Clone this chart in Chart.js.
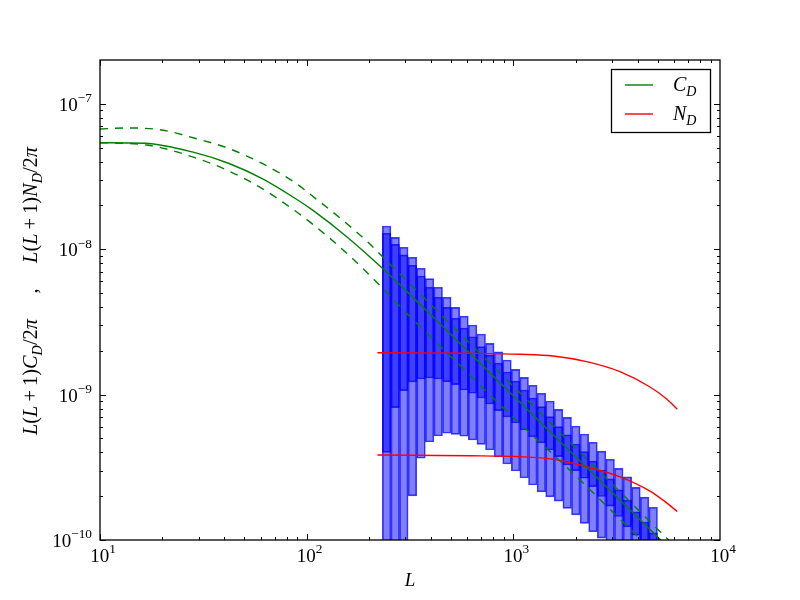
<!DOCTYPE html>
<html>
<head>
<meta charset="utf-8">
<script src="https://cdn.jsdelivr.net/npm/chart.js@4.4.0/dist/chart.umd.min.js"></script>
<style>
  html, body { margin: 0; background: #fff; }
</style>
</head>
<body>
<canvas id="c" width="800" height="600"></canvas>
<script>
// bin centres in L for the binned estimates
const binL = [243.7, 268.2, 295.1, 324.8, 357.5, 393.4, 433.0, 476.6, 524.5, 577.3,
  635.3, 699.2, 769.5, 846.9, 932.0, 1025.6, 1128.8, 1242.3, 1367.3, 1504.8,
  1655.9, 1822.5, 2005.7, 2207.3, 2429.1, 2673.0, 2941.8, 3237.4, 3564.5, 3922.4,
  4316.6, 4750.3];
// light boxes (outer range)
const outerHi = [1.444e-8, 1.207e-8, 1.031e-8, 8.80e-9, 7.39e-9, 6.27e-9, 5.47e-9, 4.67e-9, 3.98e-9, 3.46e-9,
  3.01e-9, 2.61e-9, 2.25e-9, 1.97e-9, 1.73e-9, 1.49e-9, 1.315e-9, 1.159e-9, 1.021e-9, 9.04e-10,
  7.92e-10, 6.98e-10, 6.08e-10, 5.36e-10, 4.70e-10, 4.09e-10, 3.59e-10, 3.11e-10, 2.72e-10, 2.30e-10,
  1.97e-10, 1.68e-10];
const outerLo = [5e-11, 5e-11, 5e-11, 2.01e-10, 3.65e-10, 4.72e-10, 5.19e-10, 5.42e-10, 5.33e-10, 5.17e-10,
  4.87e-10, 4.55e-10, 4.16e-10, 3.72e-10, 3.33e-10, 2.98e-10, 2.67e-10, 2.39e-10, 2.14e-10, 1.98e-10,
  1.85e-10, 1.65e-10, 1.49e-10, 1.30e-10, 1.14e-10, 1.03e-10, 8e-11, 7e-11, 6e-11, 5e-11,
  5e-11, 4e-11];
// dark boxes (inner range)
const innerHi = [1.287e-8, 1.080e-8, 9.13e-9, 7.75e-9, 6.54e-9, 5.47e-9, 4.67e-9, 3.98e-9, 3.35e-9, 2.87e-9,
  2.50e-9, 2.14e-9, 1.87e-9, 1.65e-9, 1.43e-9, 1.24e-9, 1.076e-9, 9.48e-10, 8.26e-10, 7.05e-10,
  6.02e-10, 5.28e-10, 4.57e-10, 4.05e-10, 3.49e-10, 3.03e-10, 2.63e-10, 2.21e-10, 1.88e-10, 1.56e-10,
  1.33e-10, 1.12e-10];
const innerLo = [4.01e-10, 8.13e-10, 1.064e-9, 1.221e-9, 1.28e-9, 1.30e-9, 1.28e-9, 1.227e-9, 1.170e-9, 1.076e-9,
  1.021e-9, 9.48e-10, 8.62e-10, 7.75e-10, 7.01e-10, 6.38e-10, 5.71e-10, 5.13e-10, 4.65e-10, 4.16e-10,
  3.74e-10, 3.28e-10, 3.00e-10, 2.66e-10, 2.33e-10, 1.99e-10, 1.71e-10, 1.45e-10, 1.23e-10, 1.08e-10,
  9.0e-11, 8.0e-11];

// C_D theory curve
const cdL   = [10, 16.5, 28.8, 41.8, 60.6, 87.8, 107.7, 156.2, 226.3, 310.2, 450.1, 617, 845.7, 1227, 1682, 2305, 3344, 4940, 6403];
const cdVal = [5.40e-8, 5.35e-8, 4.61e-8, 3.90e-8, 3.07e-8, 2.24e-8, 1.840e-8, 1.219e-8, 7.66e-9, 5.006e-9,
  2.987e-9, 1.927e-9, 1.240e-9, 7.39e-10, 4.765e-10, 3.073e-10, 1.831e-10, 1.064e-10, 7.40e-11];
// dashed upper / lower C_D
const cdUpL   = [10, 13.7, 19.9, 28.8, 41.8, 60.6, 87.8, 111.8, 150.4, 198.7, 262.6, 334.4, 503.2, 652.4, 945.4, 1423, 1845, 2776, 4180, 5317, 6403];
const cdUpVal = [6.71e-8, 6.82e-8, 6.60e-8, 5.79e-8, 4.94e-8, 3.90e-8, 2.87e-8, 2.20e-8, 1.57e-8, 1.11e-8,
  7.48e-9, 5.33e-9, 2.996e-9, 2.082e-9, 1.234e-9, 6.95e-10, 4.82e-10, 2.713e-10, 1.524e-10, 1.086e-10, 8.36e-11];
const cdLoL   = [10, 16.5, 28.8, 41.8, 60.6, 87.8, 107.7, 156.2, 226.3, 310.2, 450.1, 617, 845.7, 1227, 1682, 2305, 3344, 4940];
const cdLoVal = [5.40e-8, 5.23e-8, 4.26e-8, 3.46e-8, 2.62e-8, 1.837e-8, 1.474e-8, 9.39e-9, 5.63e-9, 3.53e-9,
  2.108e-9, 1.359e-9, 8.75e-10, 5.30e-10, 3.50e-10, 2.275e-10, 1.355e-10, 7.87e-11];

// N_D noise curves (two noise levels)
const ndL    = [220, 617, 1077, 1561, 2265, 3282, 4584, 5521, 6215];
const ndHigh = [1.942e-9, 1.923e-9, 1.894e-9, 1.843e-9, 1.684e-9, 1.437e-9, 1.128e-9, 9.33e-10, 7.92e-10];
const ndLow  = [3.84e-10, 3.80e-10, 3.74e-10, 3.59e-10, 3.19e-10, 2.72e-10, 2.17e-10, 1.80e-10, 1.57e-10];

const xTicks = [10, 100, 1000, 10000];
const yTicks = [1e-10, 1e-9, 1e-8, 1e-7];

const SERIF = '"Liberation Serif", "DejaVu Serif", serif';

function pts(xs, ys) {
  return xs.map((x, i) => ({ x, y: ys[i] }));
}

function pieceFont(k, size) {
  const small = k === 'sub' || k === 'sup';
  const it = (k === 'i' || k === 'sub') ? 'italic ' : '';
  return it + (small ? size * 0.7 : size) + 'px ' + SERIF;
}

function partsWidth(ctx, parts, size) {
  let w = 0;
  parts.forEach(([t, k]) => { ctx.font = pieceFont(k, size); w += ctx.measureText(t).width; });
  return w;
}

// draws a run of text pieces: [text, kind] with kind r / i / sub / sup
function mathText(ctx, parts, x, y, size, align) {
  const w = partsWidth(ctx, parts, size);
  let cx = align === 'center' ? x - w / 2 : align === 'right' ? x - w : x;
  ctx.textAlign = 'left';
  ctx.textBaseline = 'alphabetic';
  parts.forEach(([t, k]) => {
    ctx.font = pieceFont(k, size);
    const dy = k === 'sub' ? size * 0.25 : k === 'sup' ? -size * 0.45 : 0;
    ctx.fillText(t, cx, y + dy);
    cx += ctx.measureText(t).width;
  });
  return w;
}

const decor = {
  id: 'decor',
  beforeDraw(chart) {
    const ctx = chart.ctx;
    ctx.save();
    ctx.fillStyle = '#fff';
    ctx.fillRect(0, 0, chart.width, chart.height);
    ctx.restore();
  },
  afterDraw(chart) {
    const ctx = chart.ctx;
    const { left, right, top, bottom } = chart.chartArea;
    const xs = chart.scales.x, ys = chart.scales.y;
    ctx.save();
    ctx.strokeStyle = '#000';
    ctx.fillStyle = '#000';

    // inward ticks on all four sides
    ctx.lineWidth = 1;
    ctx.beginPath();
    for (let e = 1; e <= 3; e++) {
      for (let k = 1; k <= 9; k++) {
        const v = k * Math.pow(10, e);
        const px = Math.round(xs.getPixelForValue(v)) + 0.5;
        const len = k === 1 ? 6 : 3;
        ctx.moveTo(px, bottom); ctx.lineTo(px, bottom - len);
        ctx.moveTo(px, top); ctx.lineTo(px, top + len);
      }
    }
    for (let e = -10; e <= -7; e++) {
      for (let k = 1; k <= 9; k++) {
        const v = k * Math.pow(10, e);
        if (v > ys.max * 0.999) continue;
        const py = Math.round(ys.getPixelForValue(v)) + 0.5;
        const len = k === 1 ? 6 : 3;
        ctx.moveTo(left, py); ctx.lineTo(left + len, py);
        ctx.moveTo(right, py); ctx.lineTo(right - len, py);
      }
    }
    ctx.stroke();

    // frame
    ctx.lineWidth = 1.3;
    ctx.strokeRect(left, top, right - left, bottom - top);

    // tick labels
    xTicks.forEach(v => {
      const px = xs.getPixelForValue(v);
      mathText(ctx, [['10', 'r'], [String(Math.round(Math.log10(v))), 'sup']], px + 3, bottom + 22, 19, 'center');
    });
    yTicks.forEach(v => {
      const py = ys.getPixelForValue(v);
      mathText(ctx, [['10', 'r'], ['\u2212' + String(-Math.round(Math.log10(v))), 'sup']], left - 8, py + 7, 19, 'right');
    });

    // axis titles
    mathText(ctx, [['L', 'i']], (left + right) / 2, 586, 19, 'center');

    const partC = [['L', 'i'], ['(', 'r'], ['L', 'i'], ['\u2009+\u20091)', 'r'], ['C', 'i'], ['D', 'sub'], ['/2', 'r'], ['\u03c0', 'i']];
    const partN = [['L', 'i'], ['(', 'r'], ['L', 'i'], ['\u2009+\u20091)', 'r'], ['N', 'i'], ['D', 'sub'], ['/2', 'r'], ['\u03c0', 'i']];
    const ts = Math.min(22, 18 * 116 / partsWidth(ctx, partC, 18));
    const wC = partsWidth(ctx, partC, ts), wN = partsWidth(ctx, partN, ts);
    const wComma = partsWidth(ctx, [[',', 'r']], ts);
    const gap = Math.max(10, (288 - wC - wN - wComma) / 2);
    ctx.save();
    ctx.translate(37, 435);
    ctx.rotate(-Math.PI / 2);
    mathText(ctx, partC, 0, 0, ts, 'left');
    mathText(ctx, [[',', 'r']], wC + gap, 0, ts, 'left');
    mathText(ctx, partN, wC + gap + wComma + gap, 0, ts, 'left');
    ctx.restore();

    // legend
    ctx.fillStyle = '#fff';
    ctx.fillRect(611.5, 69.5, 99, 63);
    ctx.lineWidth = 1.3;
    ctx.strokeStyle = '#000';
    ctx.strokeRect(611.5, 69.5, 99, 63);
    ctx.lineWidth = 1.4;
    ctx.strokeStyle = '#008000';
    ctx.beginPath(); ctx.moveTo(625, 85); ctx.lineTo(653, 85); ctx.stroke();
    ctx.strokeStyle = '#ff0000';
    ctx.beginPath(); ctx.moveTo(625, 114); ctx.lineTo(653, 114); ctx.stroke();
    ctx.fillStyle = '#000';
    mathText(ctx, [['C', 'i'], ['D', 'sub']], 673, 91, 20, 'left');
    mathText(ctx, [['N', 'i'], ['D', 'sub']], 673, 120, 20, 'left');

    ctx.restore();
  }
};

const lineStyle = {
  type: 'line',
  pointRadius: 0,
  borderWidth: 1.4,
  fill: false,
  cubicInterpolationMode: 'monotone'
};

const barStyle = {
  type: 'bar',
  backgroundColor: 'rgba(0,0,255,0.5)',
  borderColor: 'rgba(0,0,255,0.75)',
  borderWidth: 1,
  borderSkipped: false,
  grouped: false,
  barPercentage: 1,
  categoryPercentage: 1
};

new Chart(document.getElementById('c'), {
  type: 'bar',
  data: {
    datasets: [
      { ...lineStyle, data: pts(cdL, cdVal), borderColor: '#008000', order: 1 },
      { ...lineStyle, data: pts(cdUpL, cdUpVal), borderColor: '#008000', borderDash: [8, 7], order: 1 },
      { ...lineStyle, data: pts(cdLoL, cdLoVal), borderColor: '#008000', borderDash: [8, 7], order: 1 },
      { ...lineStyle, data: pts(ndL, ndHigh), borderColor: '#ff0000', order: 1 },
      { ...lineStyle, data: pts(ndL, ndLow), borderColor: '#ff0000', order: 1 },
      { ...barStyle, data: binL.map((x, i) => ({ x, y: [innerLo[i], innerHi[i]] })), order: 2 },
      { ...barStyle, data: binL.map((x, i) => ({ x, y: [outerLo[i], outerHi[i]] })), order: 3 }
    ]
  },
  options: {
    responsive: false,
    animation: false,
    layout: { padding: { left: 100, right: 80, top: 60, bottom: 60 } },
    plugins: { legend: { display: false }, tooltip: { enabled: false } },
    scales: {
      x: { type: 'logarithmic', min: 10, max: 10000, offset: false, display: false, bounds: 'data' },
      y: { type: 'logarithmic', min: 1e-10, max: 2e-7, display: false, bounds: 'data' }
    }
  },
  plugins: [decor]
});
</script>
</body>
</html>
